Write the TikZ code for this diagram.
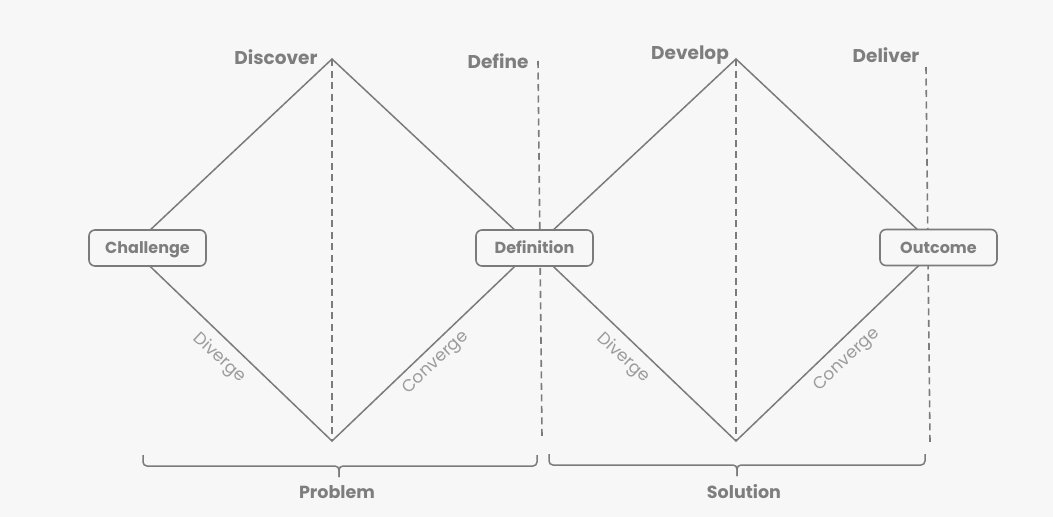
\documentclass[tikz,border=0pt]{standalone}
\usepackage{fontspec}
\setmainfont{Poppins}
\definecolor{bg}{HTML}{F7F7F7}
\definecolor{ln}{HTML}{7B7B7B}
\definecolor{tx}{HTML}{7E7E7E}
\definecolor{lt}{HTML}{9C9C9C}
\begin{document}
\begin{tikzpicture}[x=1pt,y=-1pt,
  diam/.style={draw=ln,line width=1.5pt},
  guide/.style={draw=ln,line width=1.6pt,dash pattern=on 7pt off 4.5pt},
  stage/.style={draw=ln,line width=1.6pt,fill=bg,rounded corners=6pt,minimum width=117pt,minimum height=36pt,inner sep=0pt,text height=12pt,text depth=1pt,text=tx,font=\fontsize{16}{18}\selectfont\bfseries},
  phase/.style={text=tx,inner sep=0pt,font=\fontsize{18.5}{20}\selectfont\bfseries},
  flow/.style={text=lt,inner sep=0pt,font=\fontsize{17}{18}\selectfont},
  brace/.style={draw=ln,line width=1.5pt,rounded corners=4pt},
  part/.style={text=tx,inner sep=0pt,font=\fontsize{17.5}{19}\selectfont\bfseries}]
\fill[bg] (0,0) rectangle (1053,517);
\useasboundingbox (0,0) rectangle (1053,517);
% diamond vertices
\coordinate (L) at (131,248);
\coordinate (T1) at (332,59);
\coordinate (B1) at (332,441);
\coordinate (M) at (534,248);
\coordinate (T2) at (736,59);
\coordinate (B2) at (736,441);
\coordinate (R) at (937,248);
% guides
\coordinate (g1a) at (538,61);
\coordinate (g1b) at (542,437);
\coordinate (g2a) at (926,67);
\coordinate (g2b) at (930,443);
\draw[guide] (T1) -- (B1);
\draw[guide] (T2) -- (B2);
\draw[guide] (g1a) -- (g1b);
\draw[guide] (g2a) -- (g2b);
% diamonds
\draw[diam] (L) -- (T1) -- (M) -- (B1) -- cycle;
\draw[diam] (M) -- (T2) -- (R) -- (B2) -- cycle;
% boxes
\node[stage] (ch) at (147.5,248) {Challenge};
\node[stage] (df) at (534.5,248) {Definition};
\node[stage] (oc) at (938.5,247.5) {Outcome};
% phase labels
\node[phase] (disc) at (276,57) {Discover};
\node[phase] (defi) at (498,61) {Define};
\node[phase] (dev) at (690,55) {Develop};
\node[phase] (deli) at (886,55) {Deliver};
% flow labels
\node[flow,rotate=-43] (dv1) at (219,358) {Diverge};
\node[flow,rotate=43] (cv1) at (436,363) {Converge};
\node[flow,rotate=-43] (dv2) at (623,358) {Diverge};
\node[flow,rotate=43] (cv2) at (847,360) {Converge};
% braces
\coordinate (p1) at (143,455);
\coordinate (p2) at (537,455);
\coordinate (pc) at (339,466);
\coordinate (pt) at (339,477);
\draw[brace] (p1) -- (143,466) -- (pc) -- (pt);
\draw[brace] (p2) -- (537,466) -- (pc) -- (pt);
\coordinate (s1) at (549,454);
\coordinate (s2) at (925,454);
\coordinate (sc) at (737,465);
\coordinate (st) at (737,476);
\draw[brace] (s1) -- (549,465) -- (sc) -- (st);
\draw[brace] (s2) -- (925,465) -- (sc) -- (st);
\node[part] (prob) at (337,492) {Problem};
\node[part] (sol) at (744,492) {Solution};
\end{tikzpicture}
\end{document}
